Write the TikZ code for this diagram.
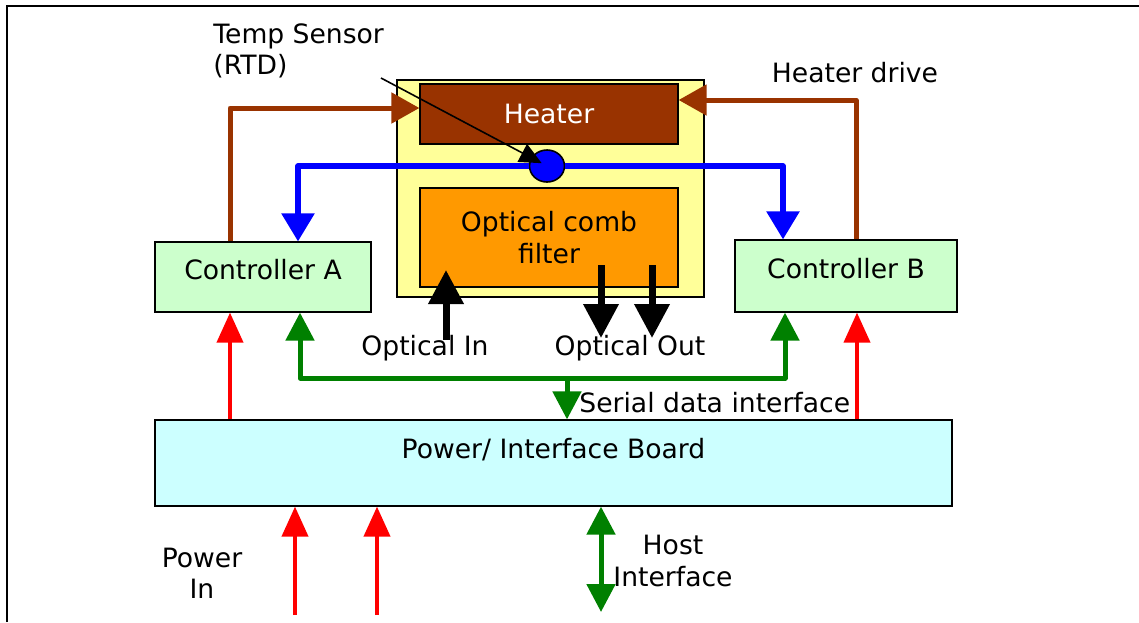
\documentclass[tikz,border=0pt]{standalone}
\usepackage{fontspec}
\setmainfont{DejaVu Sans}
\usetikzlibrary{arrows.meta,shapes.geometric}
\definecolor{heat}{HTML}{993300}
\definecolor{oven}{HTML}{FFFF99}
\definecolor{comb}{HTML}{FF9900}
\definecolor{ctrl}{HTML}{CCFFCC}
\definecolor{board}{HTML}{CCFFFF}
\definecolor{dgreen}{HTML}{008000}

\begin{document}
\begin{tikzpicture}[x=0.5pt,y=-0.5pt,
  every node/.style={font=\fontsize{13.3}{15.6}\selectfont},
  box/.style={draw=black,line width=0.6pt,inner sep=0pt},
  ctrlbox/.style={box,fill=ctrl,minimum height=35pt,text height=9.5pt,text depth=7pt},
  heatline/.style={draw=heat,line width=2.5pt,line join=round,>={Triangle[length=14pt,width=15pt]}},
  templine/.style={draw=blue,line width=2.8pt,line join=round,>={Triangle[length=14pt,width=16pt]}},
  dataline/.style={draw=dgreen,line width=2.5pt,line join=round,>={Triangle[length=14pt,width=14pt]}},
  powerline/.style={draw=red,line width=2pt,>={Triangle[length=15pt,width=13pt]}},
  optline/.style={draw=black,line width=3.5pt,>={Triangle[length=17pt,width=17pt]}}]
\useasboundingbox (0,0) rectangle (1139,622);
\draw[line width=1pt] (7,622) -- (7,6) -- (1139,6);

\node[box,fill=oven,minimum width=153.5pt,minimum height=108.5pt] (oven) at (550.5,188.5) {};
\node[box,fill=heat,text=white,minimum width=129pt,minimum height=30pt] (heater) at (549,114) {Heater};
\node[box,fill=comb,minimum width=129pt,minimum height=49.5pt,align=center] (comb) at (549,237.5) {Optical comb\\filter};
\node[ctrlbox,minimum width=108pt] (ctrlA) at (263,277) {Controller A};
\node[ctrlbox,minimum width=111pt,minimum height=36pt] (ctrlB) at (846,276) {Controller B};
\node[box,fill=board,minimum width=398.5pt,minimum height=43pt,text height=9.5pt,text depth=14pt] (board) at (553.5,463) {Power/ Interface Board};
\node[ellipse,draw=black,fill=blue,line width=0.8pt,inner sep=0pt,minimum width=17.5pt,minimum height=16pt] (rtd) at (547,166) {};

\node[align=left,anchor=west,inner sep=0pt] (rtdlabel) at (213,51) {Temp Sensor\\(RTD)};
\node (drivelabel) at (855,73) {Heater drive};
\node (inlabel) at (425,348) {Optical In};
\node (outlabel) at (630,348) {Optical Out};
\node[anchor=west,inner sep=0pt] (seriallabel) at (579,403) {Serial data interface};
\node[align=center] (powerlabel) at (202,573) {Power\\In};
\node[align=center] (hostlabel) at (673,561) {Host\\Interface};

\coordinate (ptr) at (381,78);
\coordinate (bus) at (567,378);
\coordinate (dA) at ([xshift=18.5pt]ctrlA.south);
\coordinate (dB) at ([xshift=-30.5pt]ctrlB.south);
\coordinate (pA) at ([xshift=-16.5pt]ctrlA.south);
\coordinate (pB) at ([xshift=5.5pt]ctrlB.south);
\coordinate (pin1) at (295,615);
\coordinate (pin2) at (377,615);
\coordinate (host) at (601,612);
\coordinate (optin) at (446,340);
\coordinate (out1) at (601,265);
\coordinate (out2) at (652,265);

\draw[heatline,->] ([xshift=-16.5pt]ctrlA.north) |- ([yshift=3pt]heater.west);
\draw[heatline,->] ([xshift=5pt]ctrlB.north) |- ([yshift=7pt]heater.east);
\draw[templine,->] (rtd.west) -| ([xshift=17.5pt]ctrlA.north);
\draw[templine,->] (rtd.east) -| ([xshift=-31.5pt]ctrlB.north);
\draw[-{Triangle[length=11pt,width=10pt]},line width=0.8pt,shorten >=3pt] (ptr) -- (rtd.center);

\draw[dataline,<->] (dA) -- (dA |- bus) -- (dB |- bus) -- (dB);
\draw[dataline,->] (bus) -- (bus |- board.north);
\draw[powerline,->] (pA |- board.north) -- (pA);
\draw[powerline,->] (pB |- board.north) -- (pB);
\draw[powerline,->] (pin1) -- (pin1 |- board.south);
\draw[powerline,->] (pin2) -- (pin2 |- board.south);
\draw[dataline,<->] (host) -- (host |- board.south);

\draw[optline,->] (optin) -- ++(0,-70);
\draw[optline,->] (out1) -- ++(0,73);
\draw[optline,->] (out2) -- ++(0,73);
\end{tikzpicture}
\end{document}
